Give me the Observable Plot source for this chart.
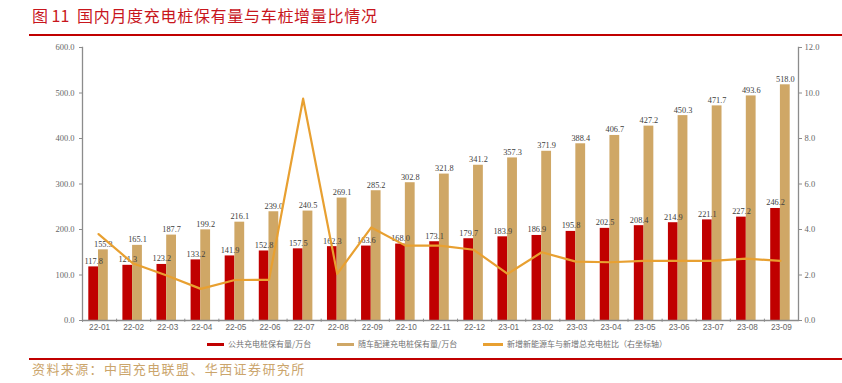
<!DOCTYPE html>
<html><head><meta charset="utf-8">
<script src="https://cdn.jsdelivr.net/npm/d3@7"></script>
<script src="https://cdn.jsdelivr.net/npm/@observablehq/plot@0.6"></script>
<style>
body{margin:0;background:#fff;}
#wrap{position:relative;width:842px;height:383px;overflow:hidden;font-family:"Noto Sans CJK SC",sans-serif;}
#chart{position:absolute;left:0;top:0;}
.t{position:absolute;white-space:pre;}
#t1{left:32px;top:5px;font-size:16px;line-height:20px;color:#C8161D;}
#t2{left:77px;top:5px;font-size:16px;line-height:20px;color:#C8161D;letter-spacing:0.7px;}
.rule{position:absolute;left:29px;width:813px;height:2px;background:#C00000;}
.sw{position:absolute;height:3px;top:343px;}
.lg{position:absolute;top:338px;font-size:8px;line-height:12px;color:#707070;white-space:pre;}
#src{left:32px;top:360px;font-size:13px;line-height:18px;color:#CBA56C;letter-spacing:1.4px;}
</style></head>
<body><div id="wrap">
<div class="t" id="t1">图 11</div>
<div class="t" id="t2">国内月度充电桩保有量与车桩增量比情况</div>
<div class="rule" style="top:34px"></div>
<div id="chart"></div>
<div class="sw" style="left:207px;width:17px;background:#C00000"></div>
<div class="lg" style="left:228px">公共充电桩保有量/万台</div>
<div class="sw" style="left:337px;width:17px;background:#CFA766"></div>
<div class="lg" style="left:358px">随车配建充电桩保有量/万台</div>
<div class="sw" style="left:483px;width:20px;background:#E8A031"></div>
<div class="lg" style="left:507px">新增新能源车与新增总充电桩比（右坐标轴）</div>
<div class="rule" style="top:358px"></div>
<div class="t" id="src">资料来源：中国充电联盟、华西证券研究所</div>
</div>
<script>
const months = ["22-01","22-02","22-03","22-04","22-05","22-06","22-07","22-08","22-09","22-10","22-11","22-12","23-01","23-02","23-03","23-04","23-05","23-06","23-07","23-08","23-09"];
const publicPiles = [117.8,121.3,123.2,133.2,141.9,152.8,157.5,162.3,163.6,168.0,173.1,179.7,183.9,186.9,195.8,202.5,208.4,214.9,221.1,227.2,246.2];
const privatePiles = [155.3,165.1,187.7,199.2,216.1,239.0,240.5,269.1,285.2,302.8,321.8,341.2,357.3,371.9,388.4,406.7,427.2,450.3,471.7,493.6,518.0];
const ratio = [3.80,2.52,1.98,1.39,1.78,1.79,9.75,2.05,4.09,3.29,3.29,3.11,2.05,3.00,2.59,2.56,2.62,2.62,2.62,2.72,2.62];
const leftTicks = [0,100,200,300,400,500,600];

const data = months.map((m,i)=>({month:m, pub:publicPiles[i], priv:privatePiles[i], ratio:ratio[i]}));
const K = 50; // right axis 0-12 mapped onto left 0-600
const W=842, H=383, ML=82, MR=44, MT=47, MB=63;
const bw = (W-ML-MR)/months.length;
const serif = "'Liberation Serif','Times New Roman',serif";
const sans = "'Liberation Sans',Arial,sans-serif";
const axisCol = "#8c8c8c";

const chart = Plot.plot({
  width:W, height:H, marginLeft:ML, marginRight:MR, marginTop:MT, marginBottom:MB,
  style:{background:"transparent", overflow:"visible"},
  x:{type:"band", domain:months, padding:0, round:false, axis:null},
  y:{domain:[0,600], axis:null},
  marks:[
    Plot.barY(data,{x:"month", y:"pub", fill:"#C00000", insetLeft:6.3, insetRight:bw-16.0}),
    Plot.barY(data,{x:"month", y:"priv", fill:"#CFA766", insetLeft:16.0, insetRight:bw-25.8}),
    Plot.text(data,{x:"month", y:"pub", text:d=>d.pub.toFixed(1), dx:11.15-bw/2, dy:-3, lineAnchor:"bottom", fontFamily:serif, fontSize:8.3, fill:"#404040"}),
    Plot.text(data,{x:"month", y:"priv", text:d=>d.priv.toFixed(1), dx:20.9-bw/2, dy:-3, lineAnchor:"bottom", fontFamily:serif, fontSize:8.3, fill:"#404040"}),
    Plot.line(data,{x:"month", y:d=>d.ratio*K, stroke:"#E8A031", strokeWidth:2.2, dx:-1}),
    Plot.ruleY([0],{stroke:axisCol, strokeWidth:1.3}),
    Plot.frame({anchor:"left", stroke:axisCol, strokeWidth:1.3}),
    Plot.frame({anchor:"right", stroke:axisCol, strokeWidth:1.3}),
    Plot.ruleX(months,{x:d=>d, dx:-bw/2, y1:3, y2:-4, stroke:axisCol}),
    Plot.axisY({anchor:"left", ticks:leftTicks, tickFormat:d=>d.toFixed(1), tickSize:3, tickPadding:5, label:null, fontFamily:serif, fontSize:8.5, color:"#666", stroke:axisCol}),
    Plot.axisY({anchor:"right", ticks:leftTicks, tickFormat:d=>(d/K).toFixed(1), tickSize:3, tickPadding:3, label:null, fontFamily:serif, fontSize:8.5, color:"#666", stroke:axisCol}),
    Plot.axisX({anchor:"bottom", tickSize:0, tickPadding:4, label:null, fontFamily:sans, fontSize:8.2, color:"#666"})
  ]
});
document.getElementById("chart").appendChild(chart);
</script>
</body></html>
